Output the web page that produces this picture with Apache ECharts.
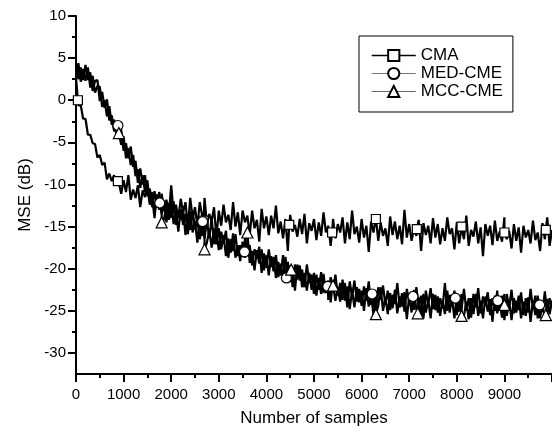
<!DOCTYPE html>
<html>
<head>
<meta charset="utf-8">
<script src="https://cdn.jsdelivr.net/npm/echarts@6/dist/echarts.min.js"></script>
<style>
html, body { margin: 0; padding: 0; background: #fff; }
#chart { width: 552px; height: 432px; }
</style>
</head>
<body>
<div id="chart"></div>
<script>
// one value every 50 samples, 0 .. 10000
var sampleStep = 50;

var cmaMse = [
  2.7, -0.6, -0.6, -2.2, -2.2, -4.1, -4.1, -5.1, -5.2, -6.8,
  -6.5, -7.7, -7.4, -9.4, -8.7, -9.6, -8.9, -9.8, -9.8, -11.1,
  -9.5, -10.9, -8.9, -11.8, -10.6, -11.6, -10.1, -12.7, -10.7, -11.5,
  -10.3, -12.4, -11.5, -14.0, -11.2, -12.4, -11.1, -13.1, -11.8, -13.6,
  -10.1, -13.4, -12.4, -14.0, -11.7, -13.3, -12.1, -15.1, -11.6, -14.0,
  -12.7, -15.0, -12.1, -13.7, -11.6, -14.7, -13.5, -14.4, -12.7, -16.3,
  -13.1, -14.9, -12.4, -14.5, -13.6, -15.4, -12.1, -15.0, -13.3, -16.0,
  -13.1, -14.5, -13.7, -16.0, -13.1, -15.2, -14.2, -16.8, -12.9, -15.2,
  -13.8, -16.0, -13.7, -15.2, -12.5, -15.8, -14.4, -16.4, -14.1, -17.9,
  -13.6, -15.6, -14.8, -16.2, -14.1, -15.9, -13.5, -17.0, -14.6, -15.5,
  -14.1, -16.6, -14.5, -16.1, -13.3, -15.7, -14.9, -17.3, -14.1, -16.4,
  -14.7, -15.7, -13.9, -17.0, -14.5, -16.5, -13.1, -15.9, -15.0, -16.9,
  -14.1, -16.3, -14.9, -18.0, -14.4, -15.7, -13.9, -16.7, -14.5, -16.1,
  -15.2, -17.3, -13.8, -16.0, -14.4, -16.5, -14.9, -17.1, -13.0, -16.3,
  -14.7, -16.7, -15.2, -16.1, -14.2, -17.9, -14.6, -16.0, -14.9, -17.0,
  -14.0, -16.3, -14.7, -17.1, -15.2, -16.7, -13.9, -15.9, -15.2, -17.7,
  -14.5, -17.0, -15.1, -16.5, -13.7, -17.3, -15.4, -16.2, -14.4, -17.0,
  -15.1, -18.5, -14.7, -16.1, -14.9, -17.2, -14.3, -16.7, -15.6, -16.8,
  -13.9, -16.5, -15.5, -17.6, -14.7, -16.7, -15.1, -18.1, -14.9, -16.3,
  -15.4, -17.0, -14.3, -16.6, -15.7, -17.9, -14.6, -16.5, -13.9, -17.3,
  -15.4
];

var medMse = [
  4.2, 2.5, 3.9, 2.4, 4.2, 2.4, 3.3, 1.1, 2.3, 2.4,
  -0.1, 1.0, -0.9, 0.1, -2.4, -1.8, -3.7, -3.0, -4.2, -3.5,
  -6.0, -5.1, -6.9, -5.5, -7.9, -7.2, -9.8, -8.1, -10.0, -8.9,
  -11.4, -10.5, -12.7, -10.8, -12.5, -10.9, -13.5, -12.4, -14.5, -12.2,
  -14.0, -12.0, -14.8, -13.2, -14.2, -13.0, -16.0, -13.7, -15.4, -13.1,
  -15.3, -14.1, -16.5, -14.9, -16.4, -14.3, -16.4, -13.9, -17.1, -15.6,
  -17.8, -15.6, -17.0, -15.5, -18.7, -16.5, -17.9, -15.9, -18.5, -17.2,
  -18.6, -16.1, -18.5, -17.2, -19.6, -17.7, -18.8, -17.4, -20.5, -18.2,
  -19.9, -17.7, -19.8, -18.6, -21.1, -19.2, -20.8, -18.4, -20.7, -19.2,
  -21.6, -19.9, -22.6, -19.5, -21.4, -20.1, -22.2, -19.5, -21.7, -20.7,
  -23.0, -20.7, -22.5, -20.4, -22.9, -21.5, -23.7, -21.0, -22.6, -20.7,
  -23.2, -21.7, -23.7, -21.7, -24.6, -21.5, -23.3, -21.4, -23.9, -22.4,
  -24.4, -22.1, -23.8, -21.5, -24.3, -22.8, -25.0, -22.2, -23.7, -22.0,
  -24.3, -22.6, -24.9, -23.1, -24.2, -21.7, -24.6, -22.9, -25.1, -22.4,
  -24.0, -22.7, -24.9, -22.2, -24.5, -23.2, -25.9, -22.6, -24.3, -22.3,
  -24.8, -23.1, -25.2, -23.5, -24.7, -21.7, -25.0, -23.1, -24.4, -22.6,
  -25.5, -23.3, -24.8, -22.4, -25.0, -23.5, -25.8, -23.0, -24.6, -22.3,
  -25.3, -23.3, -24.4, -22.8, -25.5, -23.5, -25.0, -22.6, -24.7, -23.2,
  -26.1, -23.0, -24.6, -22.5, -25.3, -23.8, -24.9, -22.8, -25.5, -23.5,
  -25.2, -22.4, -24.8, -23.2, -25.9, -23.8, -25.1, -22.7, -25.4, -23.5,
  -24.5
];

var mccMse = [
  2.5, 4.4, 2.2, 3.7, 2.3, 3.9, 1.5, 2.9, 0.9, 1.7,
  1.6, -0.8, 0.0, -1.9, -0.7, -2.9, -2.3, -4.1, -3.2, -5.3,
  -4.3, -6.9, -5.7, -7.7, -6.5, -9.0, -8.2, -10.4, -8.9, -10.9,
  -9.5, -12.1, -10.9, -13.3, -11.2, -13.0, -11.3, -14.1, -12.6, -14.2,
  -11.9, -14.7, -13.1, -15.6, -12.9, -14.8, -13.5, -15.9, -13.2, -15.7,
  -14.4, -16.9, -14.2, -16.1, -14.2, -16.9, -15.4, -17.5, -15.2, -17.1,
  -15.2, -17.7, -16.0, -18.5, -16.4, -18.1, -15.8, -18.7, -17.2, -19.1,
  -16.8, -18.7, -16.8, -19.3, -17.9, -20.2, -17.8, -19.4, -17.7, -20.2,
  -18.4, -20.8, -18.5, -20.3, -18.4, -21.0, -19.4, -21.1, -18.6, -21.1,
  -19.6, -22.2, -19.5, -21.3, -19.6, -22.2, -20.5, -22.6, -20.5, -22.5,
  -20.5, -23.2, -21.1, -23.0, -20.6, -22.9, -21.4, -24.0, -21.4, -23.8,
  -22.2, -23.9, -21.3, -23.8, -22.1, -24.8, -22.6, -24.6, -22.2, -24.0,
  -22.6, -25.0, -22.3, -24.5, -23.0, -25.5, -22.6, -24.4, -22.2, -25.0,
  -23.4, -25.4, -22.9, -24.7, -22.5, -25.3, -23.3, -24.5, -22.8, -26.0,
  -23.2, -25.2, -22.5, -24.8, -23.4, -25.6, -23.0, -25.2, -23.7, -25.9,
  -23.0, -24.9, -23.3, -25.6, -23.7, -25.4, -22.6, -25.2, -23.5, -25.9,
  -23.3, -25.1, -23.0, -25.6, -23.9, -26.0, -23.5, -25.4, -23.0, -25.6,
  -23.8, -25.9, -23.3, -25.1, -23.6, -26.3, -23.2, -25.3, -23.9, -25.8,
  -23.0, -25.6, -23.8, -26.1, -23.5, -25.2, -23.2, -25.9, -23.9, -25.6,
  -23.4, -26.3, -23.8, -25.5, -23.2, -25.9, -24.1, -26.1, -23.6, -25.4,
  -23.8
];

// marker points [sample, dB]
var cmaMarks = [[40, 0.0], [880, -9.6], [2680, -14.3], [4480, -14.8], [5380, -15.7],
  [6300, -14.1], [7160, -15.3], [8100, -15.0], [9000, -15.7], [9870, -15.4]];
var medMarks = [[880, -3.0], [1760, -12.2], [2660, -14.4], [3540, -18.0], [4420, -21.1],
  [5290, -22.1], [6220, -23.0], [7080, -23.3], [7970, -23.5], [8860, -23.8], [9740, -24.3]];
var mccMarks = [[900, -3.9], [1800, -14.5], [2700, -17.7], [3600, -15.7], [4520, -20.1],
  [5400, -22.0], [6300, -25.4], [7180, -25.3], [8100, -25.6], [9000, -24.3], [9870, -25.5]];

var xTicks = [0, 1000, 2000, 3000, 4000, 5000, 6000, 7000, 8000, 9000, 10000];
var xMinorTicks = [500, 1500, 2500, 3500, 4500, 5500, 6500, 7500, 8500, 9500];
var xLabels = [0, 1000, 2000, 3000, 4000, 5000, 6000, 7000, 8000, 9000];
var yLabels = [10, 5, 0, -5, -10, -15, -20, -25, -30];
var yMinorTicks = [7.5, 2.5, -2.5, -7.5, -12.5, -17.5, -22.5, -27.5];

var font = 'Liberation Sans';

function lineData(vals, marks) {
  var pts = vals.map(function (v, i) { return [i * sampleStep, v]; }).concat(marks);
  pts.sort(function (a, b) { return a[0] - b[0]; });
  return pts;
}

var markStyle = { color: '#fff', borderColor: '#000', borderWidth: 1.2, opacity: 1 };

function lineSeries(name, vals, marks, symbol, size) {
  return {
    name: name, type: 'line', data: lineData(vals, marks),
    symbol: symbol, symbolSize: size, showSymbol: false,
    lineStyle: { color: '#000', width: 2.2 },
    itemStyle: markStyle, z: 2, animation: false
  };
}
function markSeries(name, marks, symbol, size) {
  return {
    name: name, type: 'scatter', data: marks, symbol: symbol, symbolSize: size,
    itemStyle: markStyle, z: 5, animation: false
  };
}

var myChart = echarts.init(document.getElementById('chart'));
var option = {
  backgroundColor: '#fff',
  animation: false,
  grid: { left: 76, top: 16, width: 480, height: 359 },
  legend: {
    orient: 'vertical', left: 359, top: 36,
    padding: [11, 10, 12, 12], itemGap: 1,
    itemWidth: 44, itemHeight: 14,
    borderColor: '#000', borderWidth: 1,
    textStyle: { color: '#000', fontFamily: font, fontSize: 17 },
    data: [
      { name: 'CMA', lineStyle: { color: '#000', width: 1.5 } },
      { name: 'MED-CME', lineStyle: { color: '#777', width: 1 } },
      { name: 'MCC-CME', lineStyle: { color: '#666', width: 1 } }
    ]
  },
  xAxis: [{
    type: 'value', min: 0, max: 10000, position: 'bottom',
    name: 'Number of samples', nameLocation: 'middle', nameGap: 36,
    nameTextStyle: { color: '#000', fontFamily: font, fontSize: 17 },
    axisLine: { onZero: false, lineStyle: { color: '#000', width: 2 } },
    axisTick: { customValues: xTicks, length: 8, lineStyle: { color: '#000', width: 2 } },
    axisLabel: {
      customValues: xLabels, margin: 13, color: '#000', fontFamily: font, fontSize: 15,
      formatter: function (v) { return String(v); }
    },
    splitLine: { show: false }
  }, {
    type: 'value', min: 0, max: 10000, position: 'bottom', offset: 0,
    axisLine: { show: false, onZero: false },
    axisTick: { customValues: xMinorTicks, length: 4, lineStyle: { color: '#000', width: 2 } },
    axisLabel: { show: false },
    splitLine: { show: false }
  }],
  yAxis: [{
    type: 'value', min: -32.5, max: 10, position: 'left',
    name: 'MSE (dB)', nameLocation: 'middle', nameGap: 42,
    nameTextStyle: { color: '#000', fontFamily: font, fontSize: 17 },
    axisLine: { show: true, onZero: false, lineStyle: { color: '#000', width: 2 } },
    axisTick: { show: true, customValues: yLabels, length: 8, lineStyle: { color: '#000', width: 2 } },
    axisLabel: { customValues: yLabels, margin: 10, color: '#000', fontFamily: font, fontSize: 15 },
    splitLine: { show: false }
  }, {
    type: 'value', min: -32.5, max: 10, position: 'left', offset: 0,
    axisLine: { show: false, onZero: false },
    axisTick: { show: true, customValues: yMinorTicks, length: 4, lineStyle: { color: '#000', width: 2 } },
    axisLabel: { show: false },
    splitLine: { show: false }
  }],
  series: [
    lineSeries('CMA', cmaMse, cmaMarks, 'rect', 9),
    lineSeries('MED-CME', medMse, medMarks, 'circle', 10),
    lineSeries('MCC-CME', mccMse, mccMarks, 'triangle', 11),
    markSeries('CMA marks', cmaMarks, 'rect', 9),
    markSeries('MED-CME marks', medMarks, 'circle', 10),
    markSeries('MCC-CME marks', mccMarks, 'triangle', 11)
  ]
};
myChart.setOption(option);
</script>
</body>
</html>
